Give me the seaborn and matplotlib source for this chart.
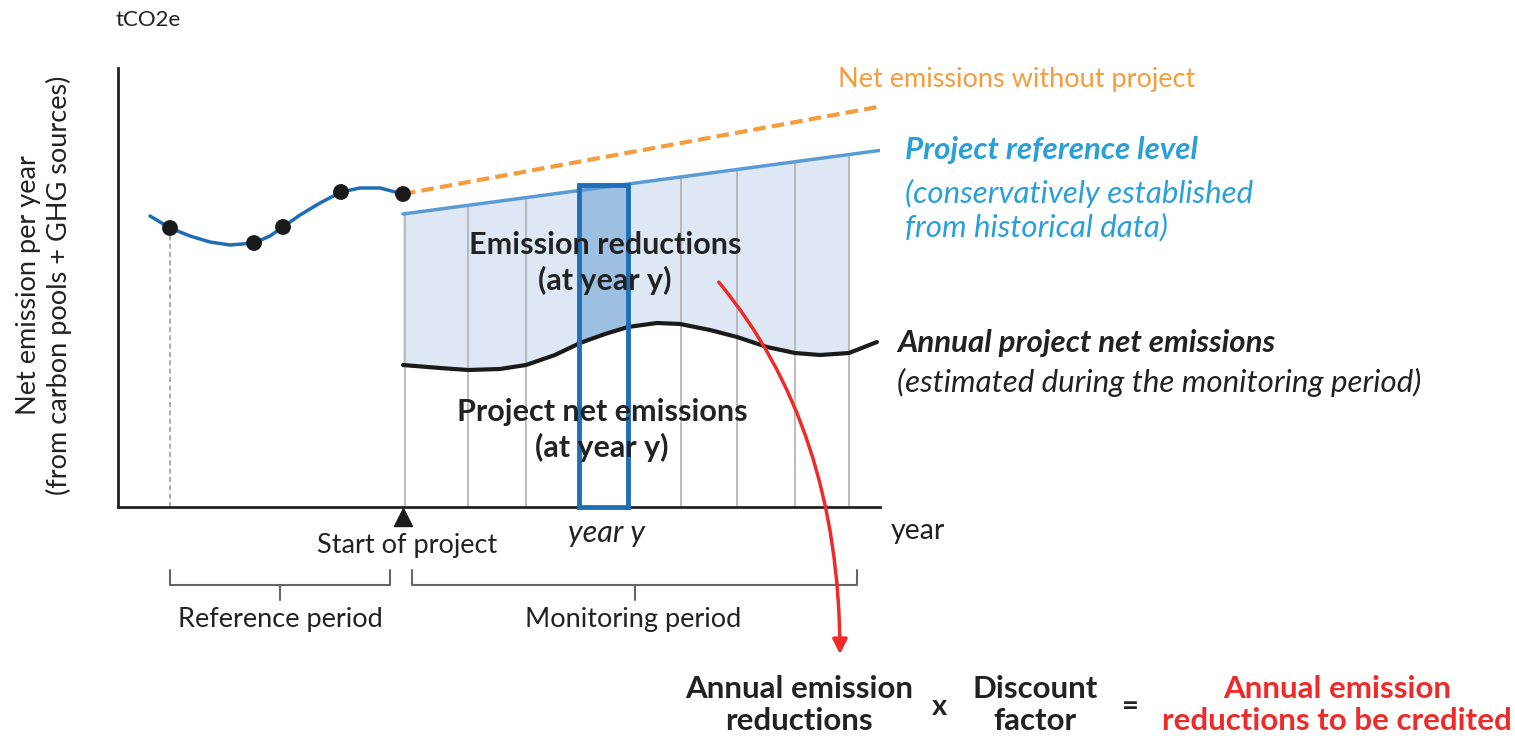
import numpy as np
import pandas as pd
import seaborn as sns
import matplotlib.pyplot as plt
from matplotlib.patches import Rectangle, FancyArrowPatch

# schematic units: x = time (arbitrary), y = net emission (arbitrary)
ref_x = [32, 52, 72, 92, 112, 136, 152, 165, 182, 202, 223, 242, 262, 285]
ref_y = [291, 279, 271, 265, 262, 264, 271, 280, 292, 304, 315, 319, 319, 313]
obs_x = [52, 136, 165, 223, 285]
obs_y = [279, 264, 280, 315, 313]

without_x = [285, 765]
without_y = [313, 401]
level_x = [285, 765]
level_y = [293, 357]

year_bounds = [287, 350, 408, 461, 510, 563, 619, 677, 731]
level_at_bounds = [293, 301, 309, 316, 322, 329, 336, 344, 351]

proj_x = [285, 322, 350, 382, 408, 437, 462, 487, 510, 539, 562, 592, 619, 649, 677, 702, 731, 759]
proj_y = [142, 139, 137, 138, 142, 152, 164, 173, 180, 184, 183, 177, 170, 160, 154, 152, 154, 165]

year_y = (461, 510)
ref_period = (52, 272)
mon_period = (294, 739)

sns.set_style("white")
plt.rcParams['font.family'] = ['Lato', 'DejaVu Sans']

fig = plt.figure(figsize=(15.15, 7.39), dpi=100)
ax = fig.add_axes([118 / 1515, 232 / 739, 762 / 1515, 439 / 739])
ax.set_xlim(0, 762)
ax.set_ylim(0, 439)

# shaded emission reductions area (reference level down to project emissions)
mask = [x <= year_bounds[-1] for x in proj_x]
px = [x for x, m in zip(proj_x, mask) if m]
py = [y for y, m in zip(proj_y, mask) if m]
poly_x = [level_x[0], year_bounds[-1]] + px[::-1]
poly_y = [level_y[0], level_at_bounds[-1]] + py[::-1]
ax.fill(poly_x, poly_y, color='#dde8f4', zorder=1, lw=0)

# year y column
col = [(x, y) for x, y in zip(proj_x, proj_y) if year_y[0] <= x <= year_y[1]]
cx = [year_y[0], year_y[1]] + [c[0] for c in col[::-1]] + [year_y[0]]
cy = [level_at_bounds[3], level_at_bounds[4]] + [c[1] for c in col[::-1]] + [164]
ax.fill(cx, cy, color='#9dc0e2', zorder=1.5, lw=0)

ax.vlines(year_bounds, 0, level_at_bounds, color='#b0b0b0', lw=1.2, zorder=2)
ax.vlines(obs_x[0], 0, obs_y[0], color='#a0a0a0', lw=1.2, ls=(0, (3, 2)), zorder=2)

sns.lineplot(x=ref_x, y=ref_y, ax=ax, color='#1f6db5', lw=2.5, zorder=3)
sns.lineplot(x=without_x, y=without_y, ax=ax, color='#f59c3c', lw=3, ls=(0, (3, 1.5)), zorder=3)
sns.lineplot(x=level_x, y=level_y, ax=ax, color='#5b9bd5', lw=2.5, zorder=3)
sns.lineplot(x=proj_x, y=proj_y, ax=ax, color='#1a1a1a', lw=3, zorder=3)
sns.scatterplot(x=obs_x, y=obs_y, ax=ax, color='#1a1a1a', s=130, zorder=4, edgecolor='none')

ax.add_patch(Rectangle((year_y[0], 0), year_y[1] - year_y[0], level_at_bounds[4],
                       fill=False, ec='#1f6fb8', lw=3.5, zorder=5, clip_on=False))

ax.plot([level_x[0]], [-10], marker='^', color='#1a1a1a', ms=13, clip_on=False, zorder=6)

sns.despine(ax=ax)
for s in ['left', 'bottom']:
    ax.spines[s].set_color('#222222')
    ax.spines[s].set_linewidth(2)
ax.set_xticks([])
ax.set_yticks([])

# braces
for a, b in [ref_period, mon_period]:
    m = (a + b) / 2
    ax.plot([a, a, b, b], [-63, -78, -78, -63], color='#666666', lw=1.5, clip_on=False)
    ax.plot([m, m], [-78, -93], color='#666666', lw=1.5, clip_on=False)

kw = dict(clip_on=False)
ax.text(-3, 487, 'tCO2e', fontsize=16, ha='left', va='center', color='#222', **kw)
ax.text(-74, 222, 'Net emission per year\n(from carbon pools + GHG sources)', fontsize=19.5,
        rotation=90, ha='center', va='center', color='#222', linespacing=1.25, **kw)
ax.text(289, -38, 'Start of project', fontsize=19.5, ha='center', va='center', color='#222', **kw)
ax.text(489, -26, 'year y', fontsize=22, style='italic', ha='center', va='center', color='#222', **kw)
ax.text(773, -24, 'year', fontsize=20.5, ha='left', va='center', color='#222', **kw)
ax.text(162, -113, 'Reference period', fontsize=19.5, ha='center', va='center', color='#222', **kw)
ax.text(515, -113, 'Monitoring period', fontsize=19.5, ha='center', va='center', color='#222', **kw)

ax.text(487, 244, 'Emission reductions\n(at year y)', fontsize=22, weight='bold', ha='center',
        va='center', color='#222', linespacing=1.25, zorder=6)
ax.text(484, 77, 'Project net emissions\n(at year y)', fontsize=22, weight='bold', ha='center',
        va='center', color='#222', linespacing=1.25, zorder=6)

ax.text(720, 427, 'Net emissions without project', fontsize=19.5, color='#f59c3c',
        ha='left', va='center', **kw)
ax.text(787, 357, 'Project reference level', fontsize=22.5, weight='bold', style='italic',
        color='#2a9fd8', ha='left', va='center', **kw)
ax.text(787, 297, '(conservatively established\nfrom historical data)', fontsize=22.5, style='italic',
        color='#2a9fd8', ha='left', va='center', linespacing=1.2, **kw)
ax.text(779, 164, 'Annual project net emissions', fontsize=22.5, weight='bold', style='italic',
        color='#222', ha='left', va='center', **kw)
ax.text(779, 125, '(estimated during the monitoring period)', fontsize=22.5, style='italic',
        color='#222', ha='left', va='center', **kw)

ax.text(681, -198, 'Annual emission\nreductions', fontsize=22.5, weight='bold', ha='center',
        va='center', color='#222', linespacing=1.2, **kw)
ax.text(822, -200, 'x', fontsize=21, weight='bold', ha='center', va='center', color='#222', **kw)
ax.text(917, -198, 'Discount\nfactor', fontsize=22.5, weight='bold', ha='center',
        va='center', color='#222', linespacing=1.2, **kw)
ax.text(1012, -200, '=', fontsize=21, weight='bold', ha='center', va='center', color='#222', **kw)
ax.text(1219, -198, 'Annual emission\nreductions to be credited', fontsize=22.5, weight='bold',
        ha='center', va='center', color='#ee2a2a', linespacing=1.2, **kw)

arrow = FancyArrowPatch((599, 227), (722, -150), connectionstyle='angle3,angleA=-50,angleB=90',
                        arrowstyle='-|>', mutation_scale=22, color='#ee2a2a', lw=2.5,
                        clip_on=False, zorder=7)
ax.add_patch(arrow)

fig.savefig('out.png', dpi=100)
